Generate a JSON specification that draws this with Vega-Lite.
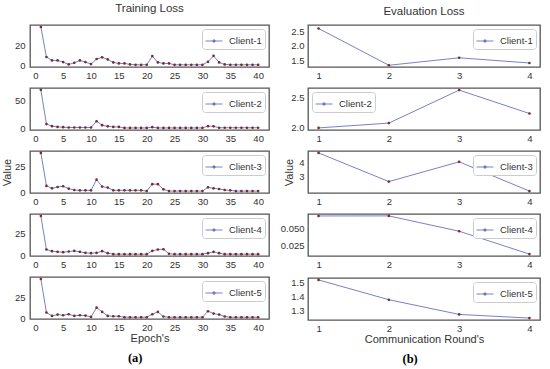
{
  "$schema": "https://vega.github.io/schema/vega-lite/v6.json",
  "padding": {"left": 0, "top": 2, "right": 0, "bottom": 0},
  "background": "white",
  "datasets": {
    "train": [
      {"c":"Client-1","e":1,"v":39},{"c":"Client-1","e":2,"v":8.8},{"c":"Client-1","e":3,"v":5.4},{"c":"Client-1","e":4,"v":5.4},{"c":"Client-1","e":5,"v":3.7},{"c":"Client-1","e":6,"v":1.4},{"c":"Client-1","e":7,"v":3},{"c":"Client-1","e":8,"v":5.4},{"c":"Client-1","e":9,"v":3.7},{"c":"Client-1","e":10,"v":1.7},
      {"c":"Client-1","e":11,"v":6.8},{"c":"Client-1","e":12,"v":8.5},{"c":"Client-1","e":13,"v":6.4},{"c":"Client-1","e":14,"v":3.4},{"c":"Client-1","e":15,"v":2.4},{"c":"Client-1","e":16,"v":2.4},{"c":"Client-1","e":17,"v":1.4},{"c":"Client-1","e":18,"v":1},{"c":"Client-1","e":19,"v":1},{"c":"Client-1","e":20,"v":1},
      {"c":"Client-1","e":21,"v":9.8},{"c":"Client-1","e":22,"v":3.4},{"c":"Client-1","e":23,"v":2.4},{"c":"Client-1","e":24,"v":2.4},{"c":"Client-1","e":25,"v":1},{"c":"Client-1","e":26,"v":1},{"c":"Client-1","e":27,"v":1},{"c":"Client-1","e":28,"v":1},{"c":"Client-1","e":29,"v":1},{"c":"Client-1","e":30,"v":1},
      {"c":"Client-1","e":31,"v":4},{"c":"Client-1","e":32,"v":10},{"c":"Client-1","e":33,"v":3.4},{"c":"Client-1","e":34,"v":1.4},{"c":"Client-1","e":35,"v":1},{"c":"Client-1","e":36,"v":1},{"c":"Client-1","e":37,"v":1},{"c":"Client-1","e":38,"v":1},{"c":"Client-1","e":39,"v":1},{"c":"Client-1","e":40,"v":1},
      {"c":"Client-2","e":1,"v":68.5},{"c":"Client-2","e":2,"v":8},{"c":"Client-2","e":3,"v":4.3},{"c":"Client-2","e":4,"v":3},{"c":"Client-2","e":5,"v":2.5},{"c":"Client-2","e":6,"v":2},{"c":"Client-2","e":7,"v":2},{"c":"Client-2","e":8,"v":2},{"c":"Client-2","e":9,"v":2},{"c":"Client-2","e":10,"v":2},
      {"c":"Client-2","e":11,"v":13},{"c":"Client-2","e":12,"v":6},{"c":"Client-2","e":13,"v":4},{"c":"Client-2","e":14,"v":3},{"c":"Client-2","e":15,"v":3},{"c":"Client-2","e":16,"v":1.2},{"c":"Client-2","e":17,"v":1.2},{"c":"Client-2","e":18,"v":1.2},{"c":"Client-2","e":19,"v":1.2},{"c":"Client-2","e":20,"v":1.2},
      {"c":"Client-2","e":21,"v":2.5},{"c":"Client-2","e":22,"v":1.2},{"c":"Client-2","e":23,"v":1.2},{"c":"Client-2","e":24,"v":1.2},{"c":"Client-2","e":25,"v":1.2},{"c":"Client-2","e":26,"v":1.2},{"c":"Client-2","e":27,"v":1.2},{"c":"Client-2","e":28,"v":1.2},{"c":"Client-2","e":29,"v":1.2},{"c":"Client-2","e":30,"v":1.2},
      {"c":"Client-2","e":31,"v":4.3},{"c":"Client-2","e":32,"v":4},{"c":"Client-2","e":33,"v":1.5},{"c":"Client-2","e":34,"v":1.5},{"c":"Client-2","e":35,"v":1.5},{"c":"Client-2","e":36,"v":1.5},{"c":"Client-2","e":37,"v":1.5},{"c":"Client-2","e":38,"v":1.5},{"c":"Client-2","e":39,"v":1.5},{"c":"Client-2","e":40,"v":1.5},
      {"c":"Client-3","e":1,"v":38.5},{"c":"Client-3","e":2,"v":6.1},{"c":"Client-3","e":3,"v":3.7},{"c":"Client-3","e":4,"v":5},{"c":"Client-3","e":5,"v":5.7},{"c":"Client-3","e":6,"v":3.4},{"c":"Client-3","e":7,"v":2},{"c":"Client-3","e":8,"v":1.7},{"c":"Client-3","e":9,"v":1.7},{"c":"Client-3","e":10,"v":1.7},
      {"c":"Client-3","e":11,"v":12.2},{"c":"Client-3","e":12,"v":5.4},{"c":"Client-3","e":13,"v":4.4},{"c":"Client-3","e":14,"v":1.7},{"c":"Client-3","e":15,"v":1.7},{"c":"Client-3","e":16,"v":1.7},{"c":"Client-3","e":17,"v":1.7},{"c":"Client-3","e":18,"v":1.7},{"c":"Client-3","e":19,"v":1.7},{"c":"Client-3","e":20,"v":1},
      {"c":"Client-3","e":21,"v":7.8},{"c":"Client-3","e":22,"v":7.8},{"c":"Client-3","e":23,"v":2.7},{"c":"Client-3","e":24,"v":1},{"c":"Client-3","e":25,"v":1},{"c":"Client-3","e":26,"v":1},{"c":"Client-3","e":27,"v":1},{"c":"Client-3","e":28,"v":1},{"c":"Client-3","e":29,"v":1},{"c":"Client-3","e":30,"v":1},
      {"c":"Client-3","e":31,"v":4.7},{"c":"Client-3","e":32,"v":3.7},{"c":"Client-3","e":33,"v":3},{"c":"Client-3","e":34,"v":2},{"c":"Client-3","e":35,"v":1.7},{"c":"Client-3","e":36,"v":1},{"c":"Client-3","e":37,"v":1},{"c":"Client-3","e":38,"v":1},{"c":"Client-3","e":39,"v":1},{"c":"Client-3","e":40,"v":1},
      {"c":"Client-4","e":1,"v":46},{"c":"Client-4","e":2,"v":6.6},{"c":"Client-4","e":3,"v":4.7},{"c":"Client-4","e":4,"v":3.9},{"c":"Client-4","e":5,"v":3.5},{"c":"Client-4","e":6,"v":4.3},{"c":"Client-4","e":7,"v":5},{"c":"Client-4","e":8,"v":3.9},{"c":"Client-4","e":9,"v":2.7},{"c":"Client-4","e":10,"v":2.3},
      {"c":"Client-4","e":11,"v":2.7},{"c":"Client-4","e":12,"v":4.7},{"c":"Client-4","e":13,"v":2.3},{"c":"Client-4","e":14,"v":1.2},{"c":"Client-4","e":15,"v":1.2},{"c":"Client-4","e":16,"v":1.2},{"c":"Client-4","e":17,"v":1.2},{"c":"Client-4","e":18,"v":1.2},{"c":"Client-4","e":19,"v":1.2},{"c":"Client-4","e":20,"v":1.2},
      {"c":"Client-4","e":21,"v":5},{"c":"Client-4","e":22,"v":6.6},{"c":"Client-4","e":23,"v":7},{"c":"Client-4","e":24,"v":1.6},{"c":"Client-4","e":25,"v":1.2},{"c":"Client-4","e":26,"v":1.2},{"c":"Client-4","e":27,"v":1.2},{"c":"Client-4","e":28,"v":1.2},{"c":"Client-4","e":29,"v":1.2},{"c":"Client-4","e":30,"v":1.2},
      {"c":"Client-4","e":31,"v":2.3},{"c":"Client-4","e":32,"v":3.9},{"c":"Client-4","e":33,"v":2.3},{"c":"Client-4","e":34,"v":1.2},{"c":"Client-4","e":35,"v":1.2},{"c":"Client-4","e":36,"v":1.2},{"c":"Client-4","e":37,"v":1.2},{"c":"Client-4","e":38,"v":1.2},{"c":"Client-4","e":39,"v":1.2},{"c":"Client-4","e":40,"v":1.2},
      {"c":"Client-5","e":1,"v":48},{"c":"Client-5","e":2,"v":6.9},{"c":"Client-5","e":3,"v":2.8},{"c":"Client-5","e":4,"v":4.4},{"c":"Client-5","e":5,"v":3.6},{"c":"Client-5","e":6,"v":4.8},{"c":"Client-5","e":7,"v":2.8},{"c":"Client-5","e":8,"v":3.6},{"c":"Client-5","e":9,"v":3.2},{"c":"Client-5","e":10,"v":1.6},
      {"c":"Client-5","e":11,"v":12.9},{"c":"Client-5","e":12,"v":7.7},{"c":"Client-5","e":13,"v":2.8},{"c":"Client-5","e":14,"v":2.4},{"c":"Client-5","e":15,"v":2.4},{"c":"Client-5","e":16,"v":1.2},{"c":"Client-5","e":17,"v":1.2},{"c":"Client-5","e":18,"v":1.2},{"c":"Client-5","e":19,"v":1.2},{"c":"Client-5","e":20,"v":1.2},
      {"c":"Client-5","e":21,"v":4.8},{"c":"Client-5","e":22,"v":7.7},{"c":"Client-5","e":23,"v":2},{"c":"Client-5","e":24,"v":1.2},{"c":"Client-5","e":25,"v":1.2},{"c":"Client-5","e":26,"v":1.2},{"c":"Client-5","e":27,"v":1.2},{"c":"Client-5","e":28,"v":1.2},{"c":"Client-5","e":29,"v":1.2},{"c":"Client-5","e":30,"v":1.2},
      {"c":"Client-5","e":31,"v":8.5},{"c":"Client-5","e":32,"v":5.6},{"c":"Client-5","e":33,"v":4.4},{"c":"Client-5","e":34,"v":2},{"c":"Client-5","e":35,"v":1.2},{"c":"Client-5","e":36,"v":1.2},{"c":"Client-5","e":37,"v":1.2},{"c":"Client-5","e":38,"v":1.2},{"c":"Client-5","e":39,"v":1.2},{"c":"Client-5","e":40,"v":1.2}
    ],
    "eval": [
      {"c":"Client-1","r":1,"v":2.6},{"c":"Client-1","r":2,"v":1.32},{"c":"Client-1","r":3,"v":1.58},{"c":"Client-1","r":4,"v":1.4},
      {"c":"Client-2","r":1,"v":2.0},{"c":"Client-2","r":2,"v":2.08},{"c":"Client-2","r":3,"v":2.63},{"c":"Client-2","r":4,"v":2.24},
      {"c":"Client-3","r":1,"v":4.63},{"c":"Client-3","r":2,"v":2.67},{"c":"Client-3","r":3,"v":4.02},{"c":"Client-3","r":4,"v":2.02},
      {"c":"Client-4","r":1,"v":0.0679},{"c":"Client-4","r":2,"v":0.068},{"c":"Client-4","r":3,"v":0.0454},{"c":"Client-4","r":4,"v":0.0117},
      {"c":"Client-5","r":1,"v":1.515},{"c":"Client-5","r":2,"v":1.375},{"c":"Client-5","r":3,"v":1.271},{"c":"Client-5","r":4,"v":1.245}
    ]
  },
  "config": {
    "font": "Liberation Sans",
    "view": {"stroke": "#555555", "strokeWidth": 1.3},
    "axis": {"domain": false, "ticks": false, "grid": false, "labelFont": "Liberation Sans", "labelFontSize": 9.5, "labelColor": "#333333", "labelPadding": 4, "titleFont": "Liberation Sans", "titleFontSize": 11, "titleFontWeight": "normal", "titleColor": "#333333"},
    "legend": {"title": null, "labelFont": "Liberation Sans", "labelFontSize": 9.5, "labelColor": "#333333", "strokeColor": "#cccccc", "fillColor": "white", "cornerRadius": 3, "padding": 3, "offset": 4, "symbolType": "M-1,0H1M-0.12,-0.12H0.12V0.12H-0.12Z", "symbolSize": 289, "symbolStrokeWidth": 1, "labelOffset": 6},
    "title": {"font": "Liberation Sans", "fontSize": 11.5, "fontWeight": "normal", "color": "#333333"}
  },
  "resolve": {"scale": {"x": "independent", "y": "independent", "color": "independent"}, "legend": {"color": "independent"}, "axis": {"x": "independent", "y": "independent"}},
  "spacing": 9,
  "hconcat": [
    {
      "title": {"text": "(a)", "orient": "bottom", "anchor": "middle", "font": "Liberation Serif", "fontWeight": "bold", "fontSize": 12.5, "color": "#000000", "offset": 8},
      "resolve": {"scale": {"x": "independent", "y": "independent", "color": "independent"}, "legend": {"color": "independent"}, "axis": {"x": "independent", "y": "independent"}},
      "spacing": 6,
      "vconcat": [
        {
          "title": {"text": "Training Loss", "offset": 10},
          "width": 239, "height": 42,
          "data": {"name": "train"},
          "transform": [{"filter": "datum.c === 'Client-1'"}],
          "encoding": {
            "x": {"field": "e", "type": "quantitative", "scale": {"domain": [-0.95, 41.95], "nice": false, "zero": false}, "axis": {"values": [0,5,10,15,20,25,30,35,40], "title": null, "labelPadding": 3}},
            "y": {"field": "v", "type": "quantitative", "scale": {"domain": [-1.2, 41], "nice": false, "zero": false}, "axis": {"values": [0, 20], "title": null, "labelPadding": 5}}
          },
          "layer": [
            {"mark": {"type": "line", "strokeWidth": 1}, "encoding": {"color": {"field": "c", "type": "nominal", "scale": {"range": ["#7b80c8"]}, "legend": {"orient": "top-right", "encode": {"symbols": {"update": {"fill": {"value": "#7a2a2a"}}}}}}}},
            {"mark": {"type": "point", "filled": true, "size": 7, "color": "#7a2a2a", "opacity": 1}}
          ]
        },
        {
          "width": 239, "height": 42,
          "data": {"name": "train"},
          "transform": [{"filter": "datum.c === 'Client-2'"}],
          "encoding": {
            "x": {"field": "e", "type": "quantitative", "scale": {"domain": [-0.95, 41.95], "nice": false, "zero": false}, "axis": {"values": [0,5,10,15,20,25,30,35,40], "title": null, "labelPadding": 3}},
            "y": {"field": "v", "type": "quantitative", "scale": {"domain": [-2.5, 71.8], "nice": false, "zero": false}, "axis": {"values": [0, 50], "title": null, "labelPadding": 5}}
          },
          "layer": [
            {"mark": {"type": "line", "strokeWidth": 1}, "encoding": {"color": {"field": "c", "type": "nominal", "scale": {"range": ["#7b80c8"]}, "legend": {"orient": "top-right", "encode": {"symbols": {"update": {"fill": {"value": "#7a2a2a"}}}}}}}},
            {"mark": {"type": "point", "filled": true, "size": 7, "color": "#7a2a2a", "opacity": 1}}
          ]
        },
        {
          "width": 239, "height": 42,
          "data": {"name": "train"},
          "transform": [{"filter": "datum.c === 'Client-3'"}],
          "encoding": {
            "x": {"field": "e", "type": "quantitative", "scale": {"domain": [-0.95, 41.95], "nice": false, "zero": false}, "axis": {"values": [0,5,10,15,20,25,30,35,40], "title": null, "labelPadding": 3}},
            "y": {"field": "v", "type": "quantitative", "scale": {"domain": [-0.9, 40.4], "nice": false, "zero": false}, "axis": {"values": [0, 25], "title": "Value", "labelPadding": 5, "titlePadding": 2}}
          },
          "layer": [
            {"mark": {"type": "line", "strokeWidth": 1}, "encoding": {"color": {"field": "c", "type": "nominal", "scale": {"range": ["#7b80c8"]}, "legend": {"orient": "top-right", "encode": {"symbols": {"update": {"fill": {"value": "#7a2a2a"}}}}}}}},
            {"mark": {"type": "point", "filled": true, "size": 7, "color": "#7a2a2a", "opacity": 1}}
          ]
        },
        {
          "width": 239, "height": 42,
          "data": {"name": "train"},
          "transform": [{"filter": "datum.c === 'Client-4'"}],
          "encoding": {
            "x": {"field": "e", "type": "quantitative", "scale": {"domain": [-0.95, 41.95], "nice": false, "zero": false}, "axis": {"values": [0,5,10,15,20,25,30,35,40], "title": null, "labelPadding": 3}},
            "y": {"field": "v", "type": "quantitative", "scale": {"domain": [-1, 48.4], "nice": false, "zero": false}, "axis": {"values": [0, 25], "title": null, "labelPadding": 5}}
          },
          "layer": [
            {"mark": {"type": "line", "strokeWidth": 1}, "encoding": {"color": {"field": "c", "type": "nominal", "scale": {"range": ["#7b80c8"]}, "legend": {"orient": "top-right", "encode": {"symbols": {"update": {"fill": {"value": "#7a2a2a"}}}}}}}},
            {"mark": {"type": "point", "filled": true, "size": 7, "color": "#7a2a2a", "opacity": 1}}
          ]
        },
        {
          "width": 239, "height": 42,
          "data": {"name": "train"},
          "transform": [{"filter": "datum.c === 'Client-5'"}],
          "encoding": {
            "x": {"field": "e", "type": "quantitative", "scale": {"domain": [-0.95, 41.95], "nice": false, "zero": false}, "axis": {"values": [0,5,10,15,20,25,30,35,40], "title": "Epoch's", "labelPadding": 3, "titlePadding": 1}},
            "y": {"field": "v", "type": "quantitative", "scale": {"domain": [-1, 50.4], "nice": false, "zero": false}, "axis": {"values": [0, 25], "title": null, "labelPadding": 5}}
          },
          "layer": [
            {"mark": {"type": "line", "strokeWidth": 1}, "encoding": {"color": {"field": "c", "type": "nominal", "scale": {"range": ["#7b80c8"]}, "legend": {"orient": "top-right", "encode": {"symbols": {"update": {"fill": {"value": "#7a2a2a"}}}}}}}},
            {"mark": {"type": "point", "filled": true, "size": 7, "color": "#7a2a2a", "opacity": 1}}
          ]
        }
      ]
    },
    {
      "title": {"text": "(b)", "orient": "bottom", "anchor": "middle", "font": "Liberation Serif", "fontWeight": "bold", "fontSize": 12.5, "color": "#000000", "offset": 8},
      "resolve": {"scale": {"x": "independent", "y": "independent", "color": "independent"}, "legend": {"color": "independent"}, "axis": {"x": "independent", "y": "independent"}},
      "spacing": 6,
      "vconcat": [
        {
          "title": {"text": "Evaluation Loss", "offset": 8},
          "width": 232, "height": 42,
          "data": {"name": "eval"},
          "transform": [{"filter": "datum.c === 'Client-1'"}],
          "encoding": {
            "x": {"field": "r", "type": "quantitative", "scale": {"domain": [0.85, 4.15], "nice": false, "zero": false}, "axis": {"values": [1,2,3,4], "title": null, "labelPadding": 3}},
            "y": {"field": "v", "type": "quantitative", "scale": {"domain": [1.26, 2.72], "nice": false, "zero": false}, "axis": {"values": [1.5, 2.0, 2.5], "format": ".1f", "title": null}}
          },
          "layer": [
            {"mark": {"type": "line", "strokeWidth": 1}, "encoding": {"color": {"field": "c", "type": "nominal", "scale": {"range": ["#7b80c8"]}, "legend": {"orient": "top-right", "encode": {"symbols": {"update": {"fill": {"value": "#7a2a2a"}}}}}}}},
            {"mark": {"type": "point", "filled": true, "size": 7, "color": "#7a2a2a", "opacity": 1}}
          ]
        },
        {
          "width": 232, "height": 42,
          "data": {"name": "eval"},
          "transform": [{"filter": "datum.c === 'Client-2'"}],
          "encoding": {
            "x": {"field": "r", "type": "quantitative", "scale": {"domain": [0.85, 4.15], "nice": false, "zero": false}, "axis": {"values": [1,2,3,4], "title": null, "labelPadding": 3}},
            "y": {"field": "v", "type": "quantitative", "scale": {"domain": [1.965, 2.665], "nice": false, "zero": false}, "axis": {"values": [2.0, 2.5], "format": ".1f", "title": null}}
          },
          "layer": [
            {"mark": {"type": "line", "strokeWidth": 1}, "encoding": {"color": {"field": "c", "type": "nominal", "scale": {"range": ["#7b80c8"]}, "legend": {"orient": "top-left", "encode": {"symbols": {"update": {"fill": {"value": "#7a2a2a"}}}}}}}},
            {"mark": {"type": "point", "filled": true, "size": 7, "color": "#7a2a2a", "opacity": 1}}
          ]
        },
        {
          "width": 232, "height": 42,
          "data": {"name": "eval"},
          "transform": [{"filter": "datum.c === 'Client-3'"}],
          "encoding": {
            "x": {"field": "r", "type": "quantitative", "scale": {"domain": [0.85, 4.15], "nice": false, "zero": false}, "axis": {"values": [1,2,3,4], "title": null, "labelPadding": 3}},
            "y": {"field": "v", "type": "quantitative", "scale": {"domain": [1.89, 4.76], "nice": false, "zero": false}, "axis": {"values": [3, 4], "title": "Value", "titlePadding": 4}}
          },
          "layer": [
            {"mark": {"type": "line", "strokeWidth": 1}, "encoding": {"color": {"field": "c", "type": "nominal", "scale": {"range": ["#7b80c8"]}, "legend": {"orient": "top-right", "encode": {"symbols": {"update": {"fill": {"value": "#7a2a2a"}}}}}}}},
            {"mark": {"type": "point", "filled": true, "size": 7, "color": "#7a2a2a", "opacity": 1}}
          ]
        },
        {
          "width": 232, "height": 42,
          "data": {"name": "eval"},
          "transform": [{"filter": "datum.c === 'Client-4'"}],
          "encoding": {
            "x": {"field": "r", "type": "quantitative", "scale": {"domain": [0.85, 4.15], "nice": false, "zero": false}, "axis": {"values": [1,2,3,4], "title": null, "labelPadding": 3}},
            "y": {"field": "v", "type": "quantitative", "scale": {"domain": [0.0089, 0.0708], "nice": false, "zero": false}, "axis": {"values": [0.025, 0.05], "format": ".3f", "title": null}}
          },
          "layer": [
            {"mark": {"type": "line", "strokeWidth": 1}, "encoding": {"color": {"field": "c", "type": "nominal", "scale": {"range": ["#7b80c8"]}, "legend": {"orient": "top-right", "encode": {"symbols": {"update": {"fill": {"value": "#7a2a2a"}}}}}}}},
            {"mark": {"type": "point", "filled": true, "size": 7, "color": "#7a2a2a", "opacity": 1}}
          ]
        },
        {
          "width": 232, "height": 42,
          "data": {"name": "eval"},
          "transform": [{"filter": "datum.c === 'Client-5'"}],
          "encoding": {
            "x": {"field": "r", "type": "quantitative", "scale": {"domain": [0.85, 4.15], "nice": false, "zero": false}, "axis": {"values": [1,2,3,4], "title": "Communication Round's", "labelPadding": 3, "titlePadding": 1}},
            "y": {"field": "v", "type": "quantitative", "scale": {"domain": [1.2315, 1.5285], "nice": false, "zero": false}, "axis": {"values": [1.3, 1.4, 1.5], "format": ".1f", "title": null}}
          },
          "layer": [
            {"mark": {"type": "line", "strokeWidth": 1}, "encoding": {"color": {"field": "c", "type": "nominal", "scale": {"range": ["#7b80c8"]}, "legend": {"orient": "top-right", "encode": {"symbols": {"update": {"fill": {"value": "#7a2a2a"}}}}}}}},
            {"mark": {"type": "point", "filled": true, "size": 7, "color": "#7a2a2a", "opacity": 1}}
          ]
        }
      ]
    }
  ]
}
